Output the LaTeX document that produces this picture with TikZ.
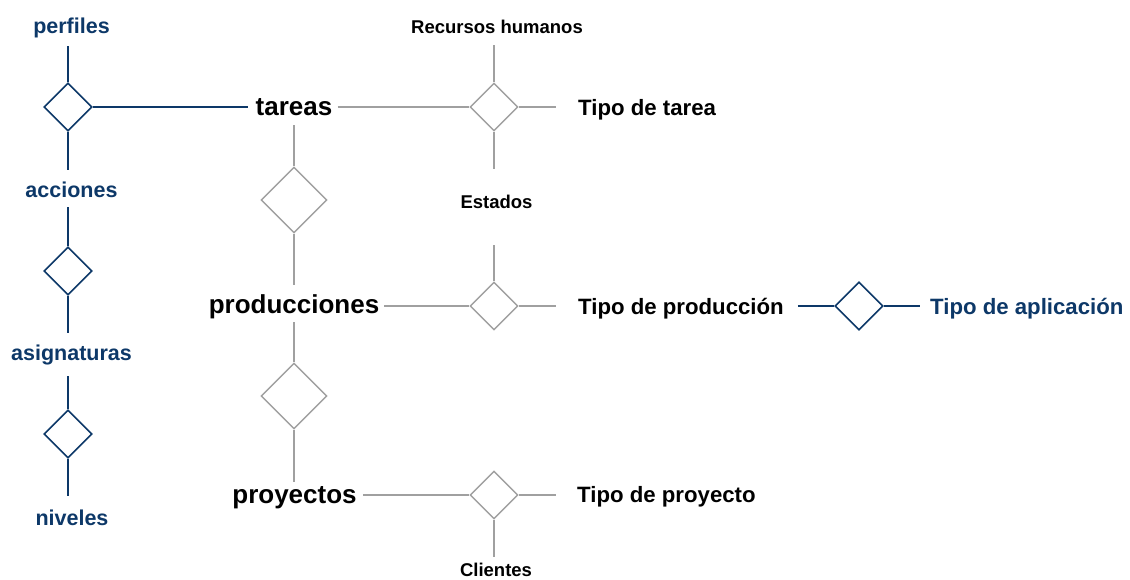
\documentclass[tikz,border=0pt]{standalone}
\usepackage{fontspec}
\setmainfont{Liberation Sans}
\usetikzlibrary{shapes.geometric}
\definecolor{navy}{RGB}{13,56,104}
\definecolor{lgray}{RGB}{160,160,160}
\tikzset{
  lblblue/.style={font=\bfseries\fontsize{21.5}{24}\selectfont, text=navy, inner sep=0pt, text height=15.5pt, text depth=0pt, anchor=base},
  ent/.style={font=\bfseries\fontsize{26}{30}\selectfont, text=black, inner sep=0pt, text height=18.7pt, text depth=0pt, anchor=base},
  attr/.style={font=\bfseries\fontsize{22.2}{25}\selectfont, text=black, inner sep=0pt, text height=16pt, text depth=0pt, anchor=base west},
  attrblue/.style={attr, text=navy},
  small/.style={font=\bfseries\fontsize{18.5}{22}\selectfont, text=black, inner sep=0pt, text height=13.3pt, text depth=0pt, anchor=base},
  bdia/.style={diamond, draw=navy, line width=1.6pt, inner sep=0pt, minimum width=48pt, minimum height=48pt, fill=white},
  gdia/.style={diamond, draw=lgray, line width=1.4pt, inner sep=0pt, minimum width=48pt, minimum height=48pt, fill=white},
  gdiabig/.style={gdia, minimum width=66pt, minimum height=66pt},
  bline/.style={draw=navy, line width=1.6pt},
  gline/.style={draw=lgray, line width=1.4pt},
}
\begin{document}
\begin{tikzpicture}[x=1pt,y=-1pt]
\useasboundingbox (0,0) rectangle (1130,579);
% left column
\node[lblblue] (perfiles) at (71.5,33) {perfiles};
\node[bdia] (d1) at (68,107) {};
\node[lblblue] (acciones) at (71.5,197) {acciones};
\node[bdia] (d2) at (68,271) {};
\node[lblblue] (asign) at (71.5,360) {asignaturas};
\node[bdia] (d3) at (68,434) {};
\node[lblblue] (niveles) at (72,525) {niveles};
% center column
\node[ent] (tareas) at (294,115) {tareas};
\node[gdiabig] (dA) at (294,200) {};
\node[ent] (prod) at (294,313) {producciones};
\node[gdiabig] (dB) at (294,396) {};
\node[ent] (proy) at (294.5,503) {proyectos};
% right column
\node[small] (rh) at (497,33) {Recursos humanos};
\node[gdia] (dT) at (494,107) {};
\node[attr] (ttarea) at (578,115) {Tipo de tarea};
\node[small] (estados) at (496.5,208) {Estados};
\node[gdia] (dP) at (494,306) {};
\coordinate (pTop) at (494,245);
\node[attr] (tprod) at (578,314) {Tipo de producción};
\node[bdia] (dQ) at (859,306) {};
\node[attrblue] (tapl) at (930,314) {Tipo de aplicación};
\node[gdia] (dR) at (494,495) {};
\node[attr] (tproy) at (577,502) {Tipo de proyecto};
\node[small] (clientes) at (496,576.5) {Clientes};
% blue connectors
\draw[bline, shorten <=13pt] (perfiles.south -| d1.north) -- (d1.north);
\draw[bline, shorten >=11.5pt] (d1.south) -- (d1.south |- acciones.north);
\draw[bline, shorten <=10pt] (acciones.south -| d2.north) -- (d2.north);
\draw[bline, shorten >=11.5pt] (d2.south) -- (d2.south |- asign.north);
\draw[bline, shorten <=16pt] (asign.south -| d3.north) -- (d3.north);
\draw[bline, shorten >=13.5pt] (d3.south) -- (d3.south |- niveles.north);
\draw[bline, shorten >=7pt] (d1.east) -- (d1.east -| tareas.west);
\draw[bline, shorten <=14pt] (tprod.east |- dQ.west) -- (dQ.west);
\draw[bline, shorten >=10pt] (dQ.east) -- (dQ.east -| tapl.west);
% gray connectors
\draw[gline, shorten <=10pt] (tareas.south -| dA.north) -- (dA.north);
\draw[gline, shorten >=9pt] (dA.south) -- (dA.south |- prod.north);
\draw[gline, shorten <=9pt] (prod.south -| dB.north) -- (dB.north);
\draw[gline, shorten >=2pt] (dB.south) -- (dB.south |- proy.north);
\draw[gline, shorten <=5pt] (tareas.east |- dT.west) -- (dT.west);
\draw[gline, shorten >=22pt] (dT.east) -- (dT.east -| ttarea.west);
\draw[gline, shorten <=12pt] (rh.south -| dT.north) -- (dT.north);
\draw[gline, shorten >=25.7pt] (dT.south) -- (dT.south |- estados.north);
\draw[gline, shorten <=5pt] (prod.east |- dP.west) -- (dP.west);
\draw[gline] (pTop) -- (dP.north);
\draw[gline, shorten >=22pt] (dP.east) -- (dP.east -| tprod.west);
\draw[gline, shorten <=6pt] (proy.east |- dR.west) -- (dR.west);
\draw[gline, shorten >=21pt] (dR.east) -- (dR.east -| tproy.west);
\draw[gline, shorten >=6.5pt] (dR.south) -- (dR.south |- clientes.north);
\end{tikzpicture}
\end{document}
